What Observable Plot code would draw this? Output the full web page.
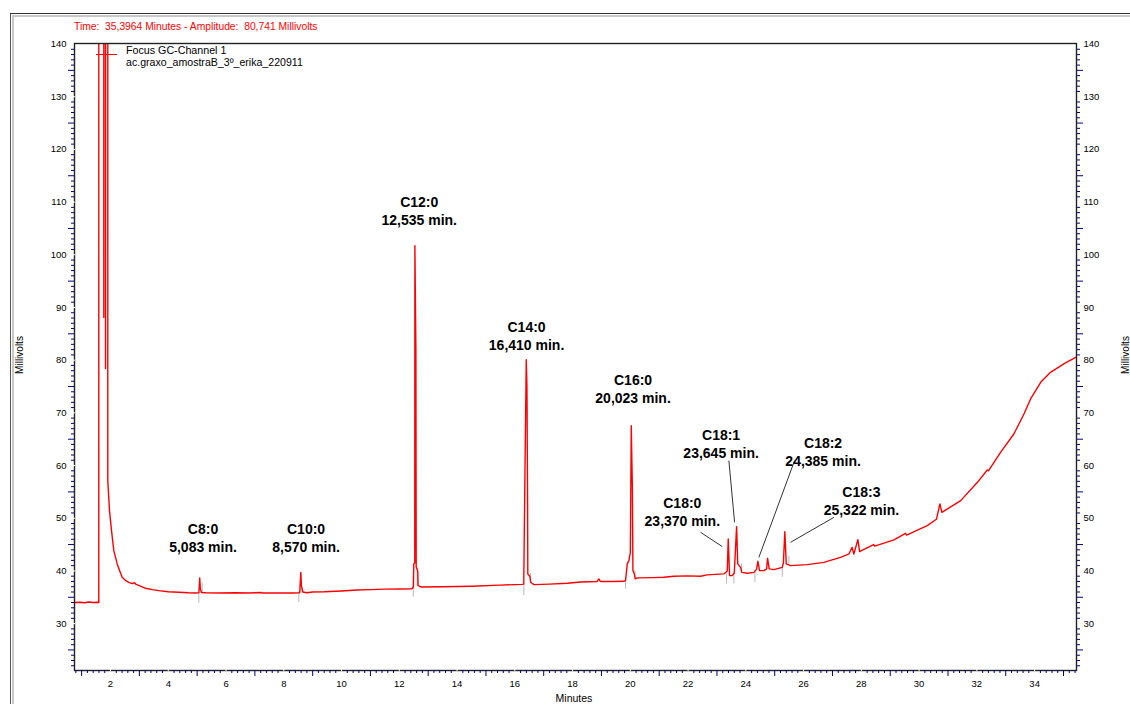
<!DOCTYPE html>
<html><head><meta charset="utf-8">
<script src="https://cdn.jsdelivr.net/npm/d3@7"></script>
<script src="https://cdn.jsdelivr.net/npm/@observablehq/plot@0.6"></script>
<style>
html,body{margin:0;padding:0;background:#fff;}
#wrap{position:relative;width:1130px;height:704px;overflow:hidden;font-family:"Liberation Sans",Arial,sans-serif;}
#wrap svg{position:absolute;left:0;top:0;}
</style></head><body><div id="wrap"></div>
<script>
// ---- chromatogram trace (minutes, millivolts) ----
const traceMin = [0.753,0.95,1.10,1.25,1.40,1.55,1.594,1.596,1.766,1.768,1.772,1.825,1.827,1.831,1.904,1.906,1.965,2.035,2.114,2.232,2.32,2.405,2.52,2.634,2.75,2.84,2.87,3.0,3.212,3.45,3.673,4.0,4.365,4.7,4.944,5.06,5.09,5.11,5.15,5.3,5.8,6.3,6.8,7.2,7.25,7.8,8.3,8.55,8.59,8.61,8.66,8.8,9.0,9.4,10.0,10.54,11.0,11.5,12.04,12.44,12.49,12.50,12.535,12.54,12.575,12.585,12.64,12.65,12.75,13.5,14.5,15.5,16.25,16.31,16.33,16.396,16.42,16.44,16.45,16.52,16.55,16.66,17.2,17.816,18.28,18.85,18.91,18.96,19.4,19.777,19.835,19.894,19.95,20.0,20.033,20.05,20.07,20.09,20.14,20.17,20.25,20.8,21.16,21.51,22.0,22.43,22.66,23.24,23.357,23.39,23.437,23.53,23.60,23.68,23.72,23.82,23.86,24.05,24.28,24.37,24.418,24.476,24.625,24.72,24.753,24.81,24.97,25.26,25.30,25.35,25.40,25.55,26.13,26.70,27.28,27.57,27.68,27.74,27.88,27.94,28.0,28.43,28.46,29.13,29.53,29.57,30.28,30.60,30.72,30.79,31.44,32.02,32.36,32.40,32.82,33.28,33.63,33.86,34.21,34.55,35.01,35.42,35.45];
const traceMv  = [34.0,34.05,33.95,34.1,34.0,34.05,34.0,300,300,88.1,300,300,78.4,300,300,57.1,51.45,47.65,43.85,41.33,40.0,38.79,38.2,37.84,37.6,37.75,37.5,37.2,36.70,36.45,36.26,36.05,35.94,35.85,35.82,35.85,38.67,36.6,35.9,35.85,35.8,35.85,35.8,35.9,35.8,35.8,35.82,35.85,39.73,37.2,36.0,35.85,36.0,36.05,36.2,36.39,36.45,36.55,36.58,36.62,37.0,41.33,41.5,101.73,81.8,40.7,40.0,37.2,36.95,37.0,37.1,37.3,37.45,37.5,48.3,80.1,75.0,55.9,39.4,39.0,37.84,37.4,37.5,37.65,37.9,38.0,38.48,38.0,38.0,38.03,38.2,41.33,41.95,43.5,67.57,62.0,55.86,40.06,39.4,38.5,38.67,38.72,38.79,38.98,39.05,38.99,39.24,39.43,40.0,46.07,39.11,39.11,39.6,48.4,41.33,40.68,39.73,39.55,39.73,40.3,41.83,40.06,40.06,40.4,42.39,40.38,40.25,40.68,41.5,47.46,41.33,41.0,41.19,41.63,42.58,43.22,44.48,43.22,45.94,43.66,43.85,44.99,44.7,45.88,47.14,46.8,48.6,49.8,52.71,51.12,53.34,56.81,59.16,59.0,62.50,65.99,69.79,72.64,75.79,77.69,79.28,80.53,80.6];

// ---- identified peaks ----
const peakNames = ["C8:0","C10:0","C12:0","C14:0","C16:0","C18:0","C18:1","C18:2","C18:3"];
const peakTimes = [5.083,8.570,12.535,16.410,20.023,23.370,23.645,24.385,25.322];
// label anchor (in minutes / millivolts)
const labelMin = [5.203,8.771,12.691,16.407,20.095,21.80,23.143,26.675,28.002];
const labelMv  = [46.32,46.32,108.46,84.74,74.69,51.29,64.25,62.67,53.49];
// leader lines for the C18 group
const leaderPeak  = ["C18:0","C18:1","C18:2","C18:3"];
const leaderMin1  = [22.433,23.413,25.688,27.05];
const leaderMv1   = [47.33,60.93,60.93,50.17];
const leaderMin2  = [23.184,23.61,24.452,25.55];
const leaderMv2   = [44.62,49.22,42.58,45.43];
// integration baseline markers (grey)
const markerMin  = [5.058,5.176,8.521,8.604,12.483,12.622,16.313,16.545,19.835,20.157,23.333,23.586,23.853,24.314,25.262,25.49];
const markerLow  = [33.85,35.75,33.99,35.88,34.99,37.21,35.31,37.84,36.58,38.48,37.53,37.53,39.73,37.84,38.79,41.0];
const markerHigh = [35.88,37.65,35.88,37.21,38.79,40.68,37.53,39.49,38.48,40.06,39.43,39.73,41.33,40.06,40.68,42.71];

// ---- axes ----
const yTickLabels = [30,40,50,60,70,80,90,100,110,120,130,140];
const xTickLabels = [2,4,6,8,10,12,14,16,18,20,22,24,26,28,30,32,34];
const yMinor = d3.range(22,141).filter(v => v % 5 !== 0);
const yMid = d3.range(25,140,10);
const xMinor = d3.range(4,178).map(i => i/5).filter(t => Math.abs(t-Math.round(t)) > 1e-6);
const xMid = d3.range(1,36,2);

const trace = traceMin.map((t,i) => ({t, mv: traceMv[i]}));
const peaks = peakNames.map((n,i) => ({name:n, time:peakTimes[i], lx:labelMin[i], ly:labelMv[i]}));
const leaders = leaderPeak.map((n,i) => ({name:n, x1:leaderMin1[i], y1:leaderMv1[i], x2:leaderMin2[i], y2:leaderMv2[i]}));
const markers = markerMin.map((t,i) => ({t, lo:markerLow[i], hi:markerHigh[i]}));
const fmt = v => v.toFixed(3).replace(".", ",");

const NAVY = "#000080";
const blank = () => "";

const chart = Plot.plot({
  width:1130, height:704,
  marginLeft:74, marginRight:54, marginTop:43, marginBottom:34,
  style:{fontFamily:"'Liberation Sans', Arial, sans-serif", fontSize:"9px", color:"#000", background:"transparent"},
  x:{domain:[0.753,35.45]},
  y:{domain:[21.1,140.1]},
  marks:[
    Plot.ruleX(markers, {x:"t", y1:"lo", y2:"hi", stroke:"#b8b8b8", strokeWidth:1}),
    Plot.line(trace, {x:"t", y:"mv", stroke:"#ff0000", strokeWidth:1.4, clip:true}),
    Plot.link(leaders, {x1:"x1", y1:"y1", x2:"x2", y2:"y2", stroke:"#333", strokeWidth:1}),
    Plot.text(peaks, {x:"lx", y:"ly", text:d => `${d.name}\n${fmt(d.time)} min.`, fontWeight:"bold", fontSize:14, fill:"#000", lineHeight:1.28, textAnchor:"middle", lineAnchor:"middle"}),
    Plot.frame({stroke:"#222", strokeWidth:1.4}),
    // left axis
    Plot.axisY({anchor:"left", ticks:yMinor, tickSize:3, stroke:NAVY, tickFormat:blank, label:null}),
    Plot.axisY({anchor:"left", ticks:yMid, tickSize:6, stroke:NAVY, tickFormat:blank, label:null}),
    Plot.axisY({anchor:"left", ticks:yTickLabels, tickSize:0, tickPadding:8, fontSize:9.5, label:null}),
    // right axis
    Plot.axisY({anchor:"right", ticks:yMinor, tickSize:3, stroke:NAVY, tickFormat:blank, label:null}),
    Plot.axisY({anchor:"right", ticks:yMid, tickSize:6, stroke:NAVY, tickFormat:blank, label:null}),
    Plot.axisY({anchor:"right", ticks:yTickLabels, tickSize:0, tickPadding:7, fontSize:9.5, label:null}),
    // bottom axis
    Plot.axisX({anchor:"bottom", ticks:xMinor, tickSize:3, stroke:NAVY, tickFormat:blank, label:null}),
    Plot.axisX({anchor:"bottom", ticks:xMid, tickSize:6, stroke:NAVY, tickFormat:blank, label:null}),
    Plot.axisX({anchor:"bottom", ticks:xTickLabels, tickSize:0, tickPadding:10, fontSize:9.5, label:null}),
    // white notches on the axis lines at labelled ticks
    Plot.tickY(yTickLabels.filter(v => v < 140), {y:d => d, insetRight:1000, dx:-1, stroke:"#fff", strokeWidth:1}),
    Plot.tickX(xTickLabels, {x:d => d, insetTop:625, dy:1, stroke:"#fff", strokeWidth:1})
  ]
});
document.getElementById("wrap").append(chart);

// window chrome, title and legend
const ov = d3.select("#wrap").append("svg").attr("width",1130).attr("height",704)
  .style("font-family","'Liberation Sans', Arial, sans-serif").style("pointer-events","none");
ov.append("line").attr("x1",10.5).attr("x2",10.5).attr("y1",13).attr("y2",704).attr("stroke","#555");
ov.append("line").attr("x1",13).attr("x2",13).attr("y1",15).attr("y2",704).attr("stroke","#c8c8c8").attr("stroke-width",2);
ov.append("line").attr("x1",10).attr("x2",1130).attr("y1",13.5).attr("y2",13.5).attr("stroke","#333");
ov.append("line").attr("x1",12).attr("x2",1130).attr("y1",16).attr("y2",16).attr("stroke","#c8c8c8").attr("stroke-width",2);
ov.append("text").attr("x",74).attr("y",30).attr("fill","#ff0000").attr("font-size",10.3)
  .text("Time:\u00A0\u00A035,3964 Minutes - Amplitude:\u00A0\u00A080,741 Millivolts");
ov.append("line").attr("x1",96).attr("x2",117).attr("y1",54.5).attr("y2",54.5).attr("stroke","#ff0000");
ov.append("text").attr("x",126).attr("y",54).attr("font-size",10.7).attr("fill","#000").text("Focus GC-Channel 1");
ov.append("text").attr("x",126).attr("y",65.5).attr("font-size",10.6).attr("fill","#000").text("ac.graxo_amostraB_3º_erika_220911");
ov.append("text").attr("transform","translate(23,355) rotate(-90)").attr("text-anchor","middle").attr("font-size",10).attr("fill","#000").text("Millivolts");
ov.append("text").attr("transform","translate(1129,355) rotate(-90)").attr("text-anchor","middle").attr("font-size",10).attr("fill","#000").text("Millivolts");
ov.append("text").attr("x",574).attr("y",702).attr("text-anchor","middle").attr("font-size",10.5).attr("fill","#000").text("Minutes");
</script></body></html>
